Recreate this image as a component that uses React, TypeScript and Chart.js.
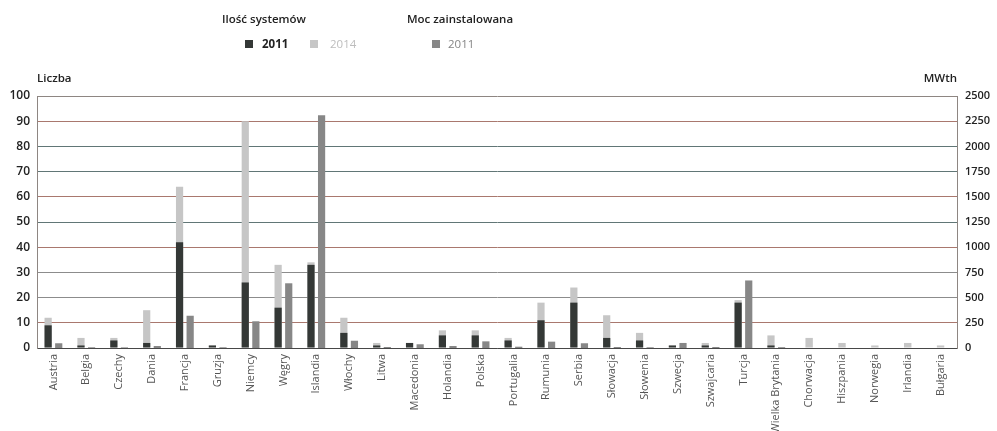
import React, { useEffect, useRef } from "react";
import { Chart, registerables } from "chart.js";

Chart.register(...registerables);

const countries = [
  "Austria", "Belgia", "Czechy", "Dania", "Francja", "Gruzja", "Niemcy", "Węgry",
  "Islandia", "Włochy", "Litwa", "Macedonia", "Holandia", "Polska", "Portugalia",
  "Rumunia", "Serbia", "Słowacja", "Słowenia", "Szwecja", "Szwajcaria", "Turcja",
  "Wielka Brytania", "Chorwacja", "Hiszpania", "Norwegia", "Irlandia", "Bułgaria",
];

// Ilość systemów (liczba) – 2011
const systems2011 = [9, 1, 3, 2, 42, 1, 26, 16, 33, 6, 1, 2, 5, 5, 3, 11, 18, 4, 3, 1, 1, 18, 1, null, null, null, null, null];
// Ilość systemów (liczba) – 2014
const systems2014 = [12, 4, 4, 15, 64, 1, 90, 33, 34, 12, 2, 2, 7, 7, 4, 18, 24, 13, 6, 1, 2, 19, 5, 4, 2, 1, 2, 1];
// Moc zainstalowana (MWth) – 2011
const capacity2011 = [47, 7, 6, 20, 320, 7, 265, 642, 2310, 72, 10, 37, 20, 66, 13, 63, 47, 10, 7, 50, 10, 670, 8, null, null, null, null, null];

const countTicks = [0, 10, 20, 30, 40, 50, 60, 70, 80, 90, 100];
const capacityTicks = [0, 250, 500, 750, 1000, 1250, 1500, 1750, 2000, 2250, 2500];

const FONT = "'Open Sans', 'Noto Sans', sans-serif";
const DARK = "#343836";
const LIGHT = "#c6c6c6";
const MID = "#878787";

const gridColor = (v: number) => {
  if (v === 100) return "#8e8682";
  if (v === 90 || v === 60 || v === 40 || v === 10) return "#a9786e";
  if (v === 80 || v === 70 || v === 50) return "#617676";
  return "#8c8c8c";
};

export default function App() {
  const ref = useRef<HTMLCanvasElement | null>(null);

  useEffect(() => {
    if (!ref.current) return;
    const chart = new Chart(ref.current, {
      type: "bar",
      data: {
        labels: countries,
        datasets: [
          { label: "2011", data: systems2011, backgroundColor: DARK, yAxisID: "y", stack: "sys" },
          { label: "2014", data: systems2014, backgroundColor: LIGHT, yAxisID: "y", stack: "sys" },
          { label: "Moc 2011", data: capacity2011, backgroundColor: MID, yAxisID: "y1", stack: "mw" },
        ],
      },
      options: {
        animation: false,
        responsive: true,
        maintainAspectRatio: false,
        layout: { padding: { top: 96, left: 0, right: 0, bottom: 0 } },
        skipNull: true,
        categoryPercentage: 0.645,
        barPercentage: 0.68,
        maxBarThickness: 7.4,
        plugins: { legend: { display: false }, tooltip: { enabled: false }, title: { display: false } },
        scales: {
          x: {
            stacked: true,
            grid: { display: false, drawTicks: false },
            border: { display: true, color: "#474747", width: 1 },
            ticks: {
              autoSkip: false,
              maxRotation: 90,
              minRotation: 90,
              padding: 6,
              color: "#555",
              font: { family: FONT, size: 11, weight: "400" },
            },
            afterFit: (s: any) => { s.height = 83; },
          },
          y: {
            position: "left",
            stacked: false,
            min: countTicks[0],
            max: countTicks[countTicks.length - 1],
            afterBuildTicks: (s: any) => { s.ticks = countTicks.map((v) => ({ value: v })); },
            grid: {
              drawTicks: false,
              color: (ctx: any) => gridColor(ctx.tick ? ctx.tick.value : 0),
              lineWidth: 1,
            },
            border: { display: true, color: "#8e8682", width: 1 },
            ticks: {
              padding: 7,
              color: "#222",
              font: { family: FONT, size: 12, weight: "600" },
              callback: (v: any) => String(v),
            },
            afterFit: (s: any) => { s.width = 37; },
          },
          y1: {
            position: "right",
            stacked: false,
            min: capacityTicks[0],
            max: capacityTicks[capacityTicks.length - 1],
            afterBuildTicks: (s: any) => { s.ticks = capacityTicks.map((v) => ({ value: v })); },
            grid: { display: false, drawTicks: false },
            border: { display: true, color: "#8e8682", width: 1 },
            ticks: {
              padding: 8,
              color: "#222",
              font: { family: FONT, size: 11, weight: "600" },
              callback: (v: any) => String(v),
            },
            afterFit: (s: any) => { s.width = 40; },
          },
        },
      } as any,
    });
    return () => chart.destroy();
  }, []);

  const txt = (extra: React.CSSProperties): React.CSSProperties => ({
    position: "absolute",
    fontFamily: FONT,
    fontSize: 11.5,
    lineHeight: "14px",
    whiteSpace: "nowrap",
    ...extra,
  });
  const sq = (left: number, color: string): React.CSSProperties => ({
    position: "absolute",
    left,
    top: 40,
    width: 8,
    height: 8,
    background: color,
  });

  return (
    <div style={{ position: "fixed", left: 0, top: 0, width: 997, height: 431, background: "#fff" }}>
      <canvas ref={ref} />
      <div style={txt({ left: 222, top: 12, fontWeight: 600, color: "#222" })}>Ilość systemów</div>
      <div style={txt({ left: 407, top: 12, fontWeight: 600, color: "#222" })}>Moc zainstalowana</div>
      <div style={sq(245, DARK)} />
      <div style={txt({ left: 262, top: 37, fontWeight: 700, color: "#222" })}>2011</div>
      <div style={sq(310, LIGHT)} />
      <div style={txt({ left: 330, top: 37, fontWeight: 400, color: "#bdbdbd" })}>2014</div>
      <div style={sq(432, MID)} />
      <div style={txt({ left: 448, top: 37, fontWeight: 400, color: "#858585" })}>2011</div>
      <div style={txt({ left: 37, top: 71, fontWeight: 600, color: "#222" })}>Liczba</div>
      <div style={txt({ right: 40, top: 71, fontWeight: 600, color: "#222", textAlign: "right" })}>MWth</div>
    </div>
  );
}
